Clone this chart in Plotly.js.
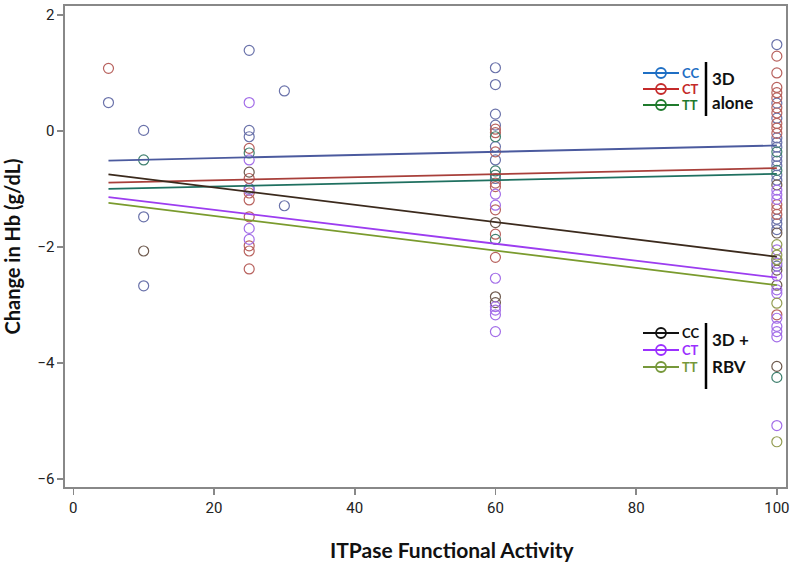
<!DOCTYPE html>
<html>
<head>
<meta charset="utf-8">
<script src="https://cdn.plot.ly/plotly-3.0.1.min.js"></script>
<style>html,body{margin:0;padding:0;background:#fff;}#chart{width:800px;height:562px;}</style>
</head>
<body>
<div id="chart"></div>
<script>
// ---- Data ----
const groupNames = ["CC 3D alone", "CT 3D alone", "TT 3D alone", "CC 3D+RBV", "CT 3D+RBV", "TT 3D+RBV"];

const ccAloneX = [5, 10, 10, 10, 25, 25, 25, 25, 30, 30, 60, 60, 60, 60, 60, 60, 60,
  100, 100, 100, 100, 100, 100, 100, 100, 100, 100, 100, 100, 100, 100, 100, 100];
const ccAloneY = [0.49, 0.01, -1.48, -2.67, 1.39, 0.01, -0.10, -0.99, 0.69, -1.29, 1.09, 0.80, 0.29, 0.10, -0.27, -0.50, -0.82,
  1.49, 0.48, 0.22, -0.12, -0.20, -0.28, -0.44, -0.52, -0.60, -0.76, -0.85, -1.52, -1.60, -1.70, -2.22, -2.33];

const ctAloneX = [5, 25, 25, 25, 25, 25, 25, 25, 25, 60, 60, 60, 60, 60, 60, 60, 60,
  100, 100, 100, 100, 100, 100, 100, 100, 100, 100, 100, 100, 100, 100];
const ctAloneY = [1.08, -0.30, -0.82, -1.07, -1.19, -1.48, -1.98, -2.07, -2.38, 0.03, -0.03, -0.36, -0.90, -0.96, -1.36, -1.78, -2.18,
  1.29, 1.00, 0.75, 0.66, 0.57, 0.40, 0.31, 0.13, 0.05, -0.04, -1.27, -1.35, -1.44, -3.17];

const ttAloneX = [10, 25, 60, 60, 60, 60, 100, 100, 100];
const ttAloneY = [-0.50, -0.38, -0.10, -0.69, -0.76, -1.87, -0.36, -0.68, -4.25];

const ccRbvX = [10, 25, 60, 60, 60, 100, 100, 100, 100, 100];
const ccRbvY = [-2.07, -0.71, -1.58, -2.86, -2.96, -0.93, -1.76, -2.40, -2.66, -4.06];

const ctRbvX = [25, 25, 25, 25, 25, 60, 60, 60, 60, 60, 60, 60,
  100, 100, 100, 100, 100, 100, 100, 100, 100, 100, 100, 100, 100];
const ctRbvY = [0.49, -0.50, -1.02, -1.68, -1.87, -1.09, -1.28, -2.54, -3.03, -3.09, -3.17, -3.46,
  -1.02, -1.10, -1.18, -2.05, -2.28, -2.50, -2.74, -2.80, -3.23, -3.37, -3.46, -3.55, -5.08];

const ttRbvX = [100, 100, 100, 100, 100];
const ttRbvY = [-1.96, -2.14, -2.22, -2.97, -5.36];

// regression line end points (x = 5 and x = 100)
const fitX = [5, 100];
const ccAloneFit = [-0.51, -0.25];
const ctAloneFit = [-0.89, -0.64];
const ttAloneFit = [-1.00, -0.74];
const ccRbvFit = [-0.75, -2.17];
const ctRbvFit = [-1.14, -2.53];
const ttRbvFit = [-1.24, -2.66];

const xTicks = [0, 20, 40, 60, 80, 100];
const yTicks = [2, 0, -2, -4, -6];

// ---- Styles ----
const markerColors = ["#6a72aa", "#b8625e", "#40806f", "#6e5a4e", "#a36ee8", "#939c52"];
const lineColors = ["#4b5a9e", "#a83f3a", "#1f7060", "#3b2a1d", "#9c3df0", "#7a9b2e"];
const legendColors = ["#1f6fc4", "#c42a2a", "#1f7a2c", "#111111", "#9b30ff", "#76983a"];

const sx = [ccAloneX, ctAloneX, ttAloneX, ccRbvX, ctRbvX, ttRbvX];
const sy = [ccAloneY, ctAloneY, ttAloneY, ccRbvY, ctRbvY, ttRbvY];
const fits = [ccAloneFit, ctAloneFit, ttAloneFit, ccRbvFit, ctRbvFit, ttRbvFit];

const traces = [];
for (let i = 0; i < 6; i++) {
  traces.push({
    type: "scatter", mode: "markers", name: groupNames[i], x: sx[i], y: sy[i],
    marker: {symbol: "circle-open", size: 10, color: markerColors[i], line: {width: 1.2}},
    showlegend: false, hoverinfo: "x+y"
  });
}
for (let i = 0; i < 6; i++) {
  traces.push({
    type: "scatter", mode: "lines", name: groupNames[i] + " fit", x: fitX, y: fits[i],
    line: {color: lineColors[i], width: 1.8}, showlegend: false, hoverinfo: "skip"
  });
}

// ---- layout geometry ----
const M = {l: 65, r: 14, t: 6, b: 75};
const W = 800 - M.l - M.r, H = 562 - M.t - M.b;
const px = v => (v - M.l) / W;
const py = v => (M.t + H - v) / H;

const titleFamily = "Lato, 'Open Sans', sans-serif";
const shapes = [];
const annotations = [];
const legendRows = [
  {y: 73, label: "CC", c: 0}, {y: 89, label: "CT", c: 1}, {y: 105, label: "TT", c: 2},
  {y: 333, label: "CC", c: 3}, {y: 350, label: "CT", c: 4}, {y: 367, label: "TT", c: 5}
];
legendRows.forEach(r => {
  const col = legendColors[r.c];
  shapes.push({type: "line", xref: "paper", yref: "paper", x0: px(643), x1: px(679), y0: py(r.y), y1: py(r.y),
    line: {color: col, width: 2.2}});
  shapes.push({type: "circle", xref: "paper", yref: "paper", x0: px(656), x1: px(666), y0: py(r.y - 5), y1: py(r.y + 5),
    line: {color: col, width: 1.8}});
  annotations.push({xref: "paper", yref: "paper", x: px(690), y: py(r.y), xanchor: "center", yanchor: "middle",
    text: r.label, showarrow: false, borderpad: 0,
    font: {family: titleFamily, size: 13, color: col, weight: "bold"}});
});
[[62, 116], [323, 389]].forEach(s => {
  shapes.push({type: "line", xref: "paper", yref: "paper", x0: px(706), x1: px(706), y0: py(s[0]), y1: py(s[1]),
    line: {color: "#000", width: 2.5}});
});
[["3D", 78], ["alone", 103], ["3D +", 340], ["RBV", 366]].forEach(t => {
  annotations.push({xref: "paper", yref: "paper", x: px(711), y: py(t[1]), xanchor: "left", yanchor: "middle",
    text: t[0], showarrow: false, borderpad: 0,
    font: {family: titleFamily, size: 17, color: "#111", weight: "bold"}});
});
annotations.push({xref: "paper", yref: "paper", x: px(452), y: py(549), xanchor: "center", yanchor: "middle",
  text: "ITPase Functional Activity", showarrow: false,
  font: {family: titleFamily, size: 21, color: "#111", weight: "bold"}});

const tickFont = {family: "Roboto, 'Liberation Sans', sans-serif", size: 15, color: "#222"};
const layout = {
  width: 800, height: 562, margin: M,
  paper_bgcolor: "#fff", plot_bgcolor: "#fff",
  showlegend: false,
  xaxis: {range: [-1.18, 101.3], tickvals: xTicks, ticktext: xTicks.map(String), showgrid: false, zeroline: false,
    showline: true, mirror: true, linecolor: "#888", linewidth: 1.6, ticks: "outside", ticklen: 6, tickcolor: "#888",
    tickwidth: 1.6, tickfont: tickFont},
  yaxis: {range: [-6.14, 2.155], tickvals: yTicks, ticktext: yTicks.map(v => v < 0 ? "\u2212" + Math.abs(v) : String(v)),
    showgrid: false, zeroline: false, showline: true, mirror: true, linecolor: "#888", linewidth: 1.6,
    ticks: "outside", ticklen: 6, tickcolor: "#888", tickwidth: 1.6, tickfont: tickFont,
    title: {text: "Change in Hb (g/dL)", standoff: 12, font: {family: titleFamily, size: 20, color: "#111", weight: "bold"}}},
  shapes: shapes, annotations: annotations
};
Plotly.newPlot("chart", traces, layout, {displayModeBar: false, staticPlot: true});
</script>
</body>
</html>
